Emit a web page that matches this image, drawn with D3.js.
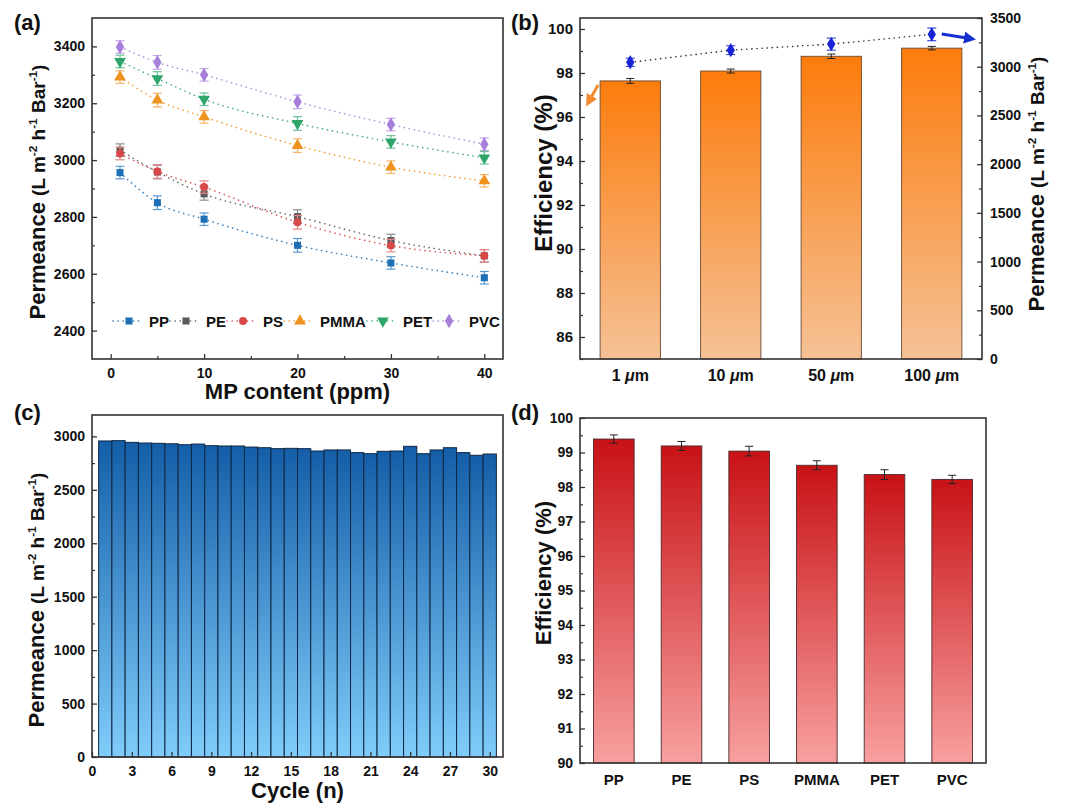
<!DOCTYPE html>
<html><head><meta charset="utf-8">
<script src="https://cdn.jsdelivr.net/npm/d3@7"></script>
<style>
body{margin:0;background:#fff}
text{font-family:"Liberation Sans",Arial,sans-serif;font-weight:bold;fill:#111}
</style>
</head><body>
<svg id="chart" width="1080" height="805"></svg>
<script>
// ---------- DATA ----------
// (a)
const mpContent = [1, 5, 10, 20, 30, 40];
const seriesNames = ["PP", "PE", "PS", "PMMA", "PET", "PVC"];
const ppVals   = [2956, 2850, 2792, 2700, 2638, 2586];
const peVals   = [3035, 2958, 2881, 2801, 2717, 2663];
const psVals   = [3023, 2960, 2905, 2781, 2699, 2663];
const pmmaVals = [3292, 3211, 3152, 3051, 2975, 2927];
const petVals  = [3347, 3287, 3214, 3129, 3064, 3008];
const pvcVals  = [3398, 3344, 3300, 3205, 3125, 3056];
const errA     = [22, 24, 22, 24, 22, 22];
const yTicksA  = [2400, 2600, 2800, 3000, 3200, 3400];
const xTicksA  = [0, 10, 20, 30, 40];
// (b)
const sizeNums = ["1", "10", "50", "100"];
const effB     = [97.64, 98.09, 98.76, 99.13];
const effBErr  = [0.11, 0.09, 0.10, 0.08];
const permB    = [3045, 3170, 3232, 3332];
const permBErr = [42, 45, 62, 65];
const yTicksBL = [86, 88, 90, 92, 94, 96, 98, 100];
const yTicksBR = [0, 500, 1000, 1500, 2000, 2500, 3000, 3500];
// (c)
const cycles = [1,2,3,4,5,6,7,8,9,10,11,12,13,14,15,16,17,18,19,20,21,22,23,24,25,26,27,28,29,30];
const permC  = [2957,2960,2944,2938,2935,2931,2922,2928,2913,2910,2910,2900,2894,2885,2888,
                2885,2863,2873,2873,2848,2838,2860,2863,2907,2838,2873,2894,2848,2823,2835];
const xTicksC = [0,3,6,9,12,15,18,21,24,27,30];
const yTicksC = [0,500,1000,1500,2000,2500,3000];
// (d)
const polymersD = ["PP", "PE", "PS", "PMMA", "PET", "PVC"];
const effD    = [99.39, 99.19, 99.04, 98.63, 98.36, 98.22];
const effDErr = [0.12, 0.13, 0.14, 0.13, 0.14, 0.12];
const yTicksD = [90,91,92,93,94,95,96,97,98,99,100];

// ---------- SETUP ----------
const fmt = d3.format("d");
const svg = d3.select("#chart");
const defs = svg.append("defs");
function vGrad(id, top, bottom) {
  const g = defs.append("linearGradient").attr("id", id)
    .attr("x1", 0).attr("y1", 0).attr("x2", 0).attr("y2", 1);
  g.append("stop").attr("offset", "0%").attr("stop-color", top);
  g.append("stop").attr("offset", "100%").attr("stop-color", bottom);
}
vGrad("gOrange", "#fc7c0c", "#f5c196");
vGrad("gBlue", "#145ea8", "#80ccfa");
vGrad("gRed", "#c81216", "#f8a0a0");

function arrowMarker(id, color) {
  defs.append("marker").attr("id", id).attr("viewBox", "0 0 10 10")
    .attr("refX", 5).attr("refY", 5).attr("markerWidth", 4).attr("markerHeight", 4)
    .attr("orient", "auto").append("path").attr("d", "M0,0L10,5L0,10Z").attr("fill", color);
}
arrowMarker("arrOrange", "#f28a2e");
arrowMarker("arrBlue", "#1530d0");

const FRAME = "#333";
function frame(l, t, r, b) {
  svg.append("rect").attr("x", l).attr("y", t).attr("width", r - l).attr("height", b - t)
    .attr("fill", "none").attr("stroke", FRAME).attr("stroke-width", 1.6);
}
function styleAxis(g, fs) {
  g.select(".domain").remove();
  g.selectAll(".tick line").attr("stroke", FRAME).attr("stroke-width", 1.3);
  g.selectAll("text").attr("font-size", fs).style("font-family", '"Liberation Sans",Arial,sans-serif').attr("font-weight", "bold").attr("fill", "#111");
}
function minorAxis(axisFn, scale, vals, tx, ty) {
  const g = svg.append("g").attr("transform", `translate(${tx},${ty})`)
    .call(axisFn(scale).tickValues(vals).tickSize(-3).tickFormat(""));
  g.select(".domain").remove();
  g.selectAll(".tick line").attr("stroke", FRAME).attr("stroke-width", 1.2);
}
function permTitle(cx, cy, big, small) {
  const t = svg.append("text").attr("transform", `translate(${cx},${cy}) rotate(-90)`).attr("text-anchor", "middle");
  const sup = small * 0.62, sh = small * 0.42;
  t.append("tspan").attr("font-size", big).text("Permeance ");
  t.append("tspan").attr("font-size", small).text("(L m");
  t.append("tspan").attr("font-size", sup).attr("dy", -sh).text("-2");
  t.append("tspan").attr("font-size", small).attr("dy", sh).text(" h");
  t.append("tspan").attr("font-size", sup).attr("dy", -sh).text("-1");
  t.append("tspan").attr("font-size", small).attr("dy", sh).text(" Bar");
  t.append("tspan").attr("font-size", sup).attr("dy", -sh).text("-1");
  t.append("tspan").attr("font-size", small).attr("dy", sh).text(")");
}
function rotTitle(cx, cy, fs, txt) {
  svg.append("text").attr("transform", `translate(${cx},${cy}) rotate(-90)`)
    .attr("text-anchor", "middle").attr("font-size", fs).text(txt);
}
function panelLabel(x, y, txt) {
  svg.append("text").attr("x", x).attr("y", y).attr("font-size", 22).text(txt);
}

// ---------- PANEL (a) ----------
{
  const L = 92, T = 18, R = 503, B = 359;
  const x = d3.scaleLinear().domain([-2, 42]).range([L, R]);
  const y = d3.scaleLinear().domain([2300, 3500]).range([B, T]);
  const colors = ["#1f6fb4", "#5a5a5a", "#d94848", "#f0921e", "#2ea56a", "#a77fdb"];
  const errColors = ["#5b98cf", "#8a8a8a", "#e58585", "#f4b56a", "#6cc198", "#c2a6e8"];
  const symbols = [
    {t: d3.symbolSquare, s: 50, r: 0},
    {t: d3.symbolSquare, s: 50, r: 0},
    {t: d3.symbolCircle, s: 50, r: 0},
    {t: d3.symbolTriangle, s: 60, r: 0},
    {t: d3.symbolTriangle, s: 60, r: 180},
    {t: d3.symbolDiamond, s: 60, r: 0}
  ];
  const allVals = [ppVals, peVals, psVals, pmmaVals, petVals, pvcVals];

  const line = d3.line().x((d, i) => x(mpContent[i])).y(d => y(d)).curve(d3.curveMonotoneX);
  allVals.forEach((vals, k) => {
    svg.append("path").attr("d", line(vals)).attr("fill", "none")
      .attr("stroke", colors[k]).attr("stroke-width", 1.6)
      .attr("stroke-dasharray", "0.1,5").attr("stroke-linecap", "round").attr("opacity", 0.9);
  });
  allVals.forEach((vals, k) => {
    const g = svg.append("g");
    vals.forEach((v, i) => {
      const cx = x(mpContent[i]), e = errA[i];
      g.append("line").attr("x1", cx).attr("x2", cx).attr("y1", y(v - e)).attr("y2", y(v + e))
        .attr("stroke", errColors[k]).attr("stroke-width", 1.2);
      [v - e, v + e].forEach(w => g.append("line").attr("x1", cx - 4.5).attr("x2", cx + 4.5)
        .attr("y1", y(w)).attr("y2", y(w)).attr("stroke", errColors[k]).attr("stroke-width", 1.2));
      g.append("path").attr("d", d3.symbol().type(symbols[k].t).size(symbols[k].s)())
        .attr("transform", `translate(${cx},${y(v)}) rotate(${symbols[k].r})`)
        .attr("fill", colors[k]);
    });
  });

  const ax = svg.append("g").attr("transform", `translate(0,${B})`)
    .call(d3.axisBottom(x).tickValues(xTicksA).tickFormat(fmt).tickSize(-5).tickPadding(9));
  styleAxis(ax, 14);
  minorAxis(d3.axisBottom, x, [5, 15, 25, 35], 0, B);
  const ay = svg.append("g").attr("transform", `translate(${L},0)`)
    .call(d3.axisLeft(y).tickValues(yTicksA).tickFormat(fmt).tickSize(-5).tickPadding(7));
  styleAxis(ay, 14);
  minorAxis(d3.axisLeft, y, [2500, 2700, 2900, 3100, 3300], L, 0);
  frame(L, T, R, B);

  // legend
  let mx = 129;
  const ly = 321;
  seriesNames.forEach((n, k) => {
    svg.append("line").attr("x1", mx - 16).attr("x2", mx + 14).attr("y1", ly).attr("y2", ly)
      .attr("stroke", colors[k]).attr("stroke-width", 1.6).attr("stroke-dasharray", "0.1,5").attr("stroke-linecap", "round");
    svg.append("path").attr("d", d3.symbol().type(symbols[k].t).size(symbols[k].s)())
      .attr("transform", `translate(${mx},${ly}) rotate(${symbols[k].r})`).attr("fill", colors[k]);
    const t = svg.append("text").attr("x", mx + 20).attr("y", ly + 5.5).attr("font-size", 15).text(n);
    mx = mx + 20 + t.node().getComputedTextLength() + 17;
  });

  permTitle(45, 192, 22, 19);
  svg.append("text").attr("x", (L + R) / 2).attr("y", 399).attr("text-anchor", "middle")
    .attr("font-size", 22).text("MP content (ppm)");
  panelLabel(14, 30, "(a)");
}

// ---------- PANEL (b) ----------
{
  const L = 580, T = 18, R = 982, B = 359;
  const x = d3.scaleBand().domain(sizeNums).range([L, R]).paddingInner(0.4).paddingOuter(0.2);
  const yL = d3.scaleLinear().domain([85, 100.5]).range([B, T]);
  const yR = d3.scaleLinear().domain([0, 3500]).range([B, T]);

  sizeNums.forEach((s, i) => {
    svg.append("rect").attr("x", x(s)).attr("width", x.bandwidth())
      .attr("y", yL(effB[i])).attr("height", B - yL(effB[i]))
      .attr("fill", "url(#gOrange)").attr("stroke", "#6a4a32").attr("stroke-width", 0.9);
    const cx = x(s) + x.bandwidth() / 2, e = effBErr[i];
    svg.append("line").attr("x1", cx).attr("x2", cx).attr("y1", yL(effB[i] - e)).attr("y2", yL(effB[i] + e))
      .attr("stroke", "#222").attr("stroke-width", 1);
    [effB[i] - e, effB[i] + e].forEach(w => svg.append("line").attr("x1", cx - 4).attr("x2", cx + 4)
      .attr("y1", yL(w)).attr("y2", yL(w)).attr("stroke", "#222").attr("stroke-width", 1));
  });

  const lineB = d3.line().x((d, i) => x(sizeNums[i]) + x.bandwidth() / 2).y(d => yR(d));
  svg.append("path").attr("d", lineB(permB)).attr("fill", "none").attr("stroke", "#333")
    .attr("stroke-width", 1.6).attr("stroke-dasharray", "0.1,5").attr("stroke-linecap", "round");
  permB.forEach((v, i) => {
    const cx = x(sizeNums[i]) + x.bandwidth() / 2, e = permBErr[i];
    svg.append("line").attr("x1", cx).attr("x2", cx).attr("y1", yR(v - e)).attr("y2", yR(v + e))
      .attr("stroke", "#2a3ad8").attr("stroke-width", 1.1);
    [v - e, v + e].forEach(w => svg.append("line").attr("x1", cx - 4.5).attr("x2", cx + 4.5)
      .attr("y1", yR(w)).attr("y2", yR(w)).attr("stroke", "#2a3ad8").attr("stroke-width", 1.1));
    svg.append("path").attr("d", d3.symbol().type(d3.symbolDiamond).size(60)())
      .attr("transform", `translate(${cx},${yR(v)})`).attr("fill", "#1a22d8");
  });

  // arrows
  const x0 = x(sizeNums[0]);
  svg.append("line").attr("x1", x0 - 2).attr("y1", yL(97.45)).attr("x2", L + 9).attr("y2", yL(96.72))
    .attr("stroke", "#f28a2e").attr("stroke-width", 3).attr("marker-end", "url(#arrOrange)");
  const x3 = x(sizeNums[3]) + x.bandwidth() / 2;
  svg.append("line").attr("x1", x3 + 10).attr("y1", yR(3335)).attr("x2", R - 12).attr("y2", yR(3290))
    .attr("stroke", "#1530d0").attr("stroke-width", 3).attr("marker-end", "url(#arrBlue)");

  const ayl = svg.append("g").attr("transform", `translate(${L},0)`)
    .call(d3.axisLeft(yL).tickValues(yTicksBL).tickFormat(fmt).tickSize(-5).tickPadding(7));
  styleAxis(ayl, 15);
  minorAxis(d3.axisLeft, yL, [85, 87, 89, 91, 93, 95, 97, 99], L, 0);
  const ayr = svg.append("g").attr("transform", `translate(${R},0)`)
    .call(d3.axisRight(yR).tickValues(yTicksBR).tickFormat(fmt).tickSize(-5).tickPadding(8));
  styleAxis(ayr, 14);
  minorAxis(d3.axisRight, yR, [250, 750, 1250, 1750, 2250, 2750, 3250], R, 0);
  frame(L, T, R, B);

  sizeNums.forEach(s => {
    const t = svg.append("text").attr("x", x(s) + x.bandwidth() / 2).attr("y", B + 22)
      .attr("text-anchor", "middle").attr("font-size", 16);
    t.append("tspan").text(s + " ");
    t.append("tspan").attr("font-style", "italic").text("μ");
    t.append("tspan").text("m");
  });

  rotTitle(552, 173, 24, "Efficiency (%)");
  permTitle(1044, 184, 22, 19);
  panelLabel(511, 30, "(b)");
}

// ---------- PANEL (c) ----------
{
  const L = 92, T = 415, R = 503, B = 757;
  const x = d3.scaleLinear().domain([0, 31]).range([L, R]);
  const y = d3.scaleLinear().domain([0, 3200]).range([B, T]);
  cycles.forEach((c, i) => {
    svg.append("rect").attr("x", x(c - 0.5)).attr("width", x(c + 0.5) - x(c - 0.5))
      .attr("y", y(permC[i])).attr("height", B - y(permC[i]))
      .attr("fill", "url(#gBlue)").attr("stroke", "#0e2844").attr("stroke-width", 1);
  });
  const ax = svg.append("g").attr("transform", `translate(0,${B})`)
    .call(d3.axisBottom(x).tickValues(xTicksC).tickFormat(fmt).tickSize(-5).tickPadding(9));
  styleAxis(ax, 14);
  const ay = svg.append("g").attr("transform", `translate(${L},0)`)
    .call(d3.axisLeft(y).tickValues(yTicksC).tickFormat(fmt).tickSize(-5).tickPadding(7));
  styleAxis(ay, 14);
  minorAxis(d3.axisLeft, y, [250, 750, 1250, 1750, 2250, 2750], L, 0);
  frame(L, T, R, B);

  permTitle(44, 600, 22, 19);
  svg.append("text").attr("x", (L + R) / 2).attr("y", 798).attr("text-anchor", "middle")
    .attr("font-size", 22).text("Cycle (n)");
  panelLabel(14, 420, "(c)");
}

// ---------- PANEL (d) ----------
{
  const L = 580, T = 418, R = 986, B = 763;
  const x = d3.scaleBand().domain(polymersD).range([L, R]).paddingInner(0.4).paddingOuter(0.2);
  const y = d3.scaleLinear().domain([90, 100]).range([B, T]);
  polymersD.forEach((p, i) => {
    svg.append("rect").attr("x", x(p)).attr("width", x.bandwidth())
      .attr("y", y(effD[i])).attr("height", B - y(effD[i]))
      .attr("fill", "url(#gRed)").attr("stroke", "#4a2a2a").attr("stroke-width", 0.9);
    const cx = x(p) + x.bandwidth() / 2, e = effDErr[i];
    svg.append("line").attr("x1", cx).attr("x2", cx).attr("y1", y(effD[i] - e)).attr("y2", y(effD[i] + e))
      .attr("stroke", "#222").attr("stroke-width", 1);
    [effD[i] - e, effD[i] + e].forEach(w => svg.append("line").attr("x1", cx - 4).attr("x2", cx + 4)
      .attr("y1", y(w)).attr("y2", y(w)).attr("stroke", "#222").attr("stroke-width", 1));
  });
  const ax = svg.append("g").attr("transform", `translate(0,${B})`)
    .call(d3.axisBottom(x).tickSize(0).tickPadding(11));
  styleAxis(ax, 15);
  const ay = svg.append("g").attr("transform", `translate(${L},0)`)
    .call(d3.axisLeft(y).tickValues(yTicksD).tickFormat(fmt).tickSize(-5).tickPadding(7));
  styleAxis(ay, 14);
  minorAxis(d3.axisLeft, y, d3.range(90.5, 100, 1), L, 0);
  frame(L, T, R, B);

  rotTitle(551, 573, 22, "Efficiency (%)");
  panelLabel(511, 420, "(d)");
}
</script>
</body></html>
